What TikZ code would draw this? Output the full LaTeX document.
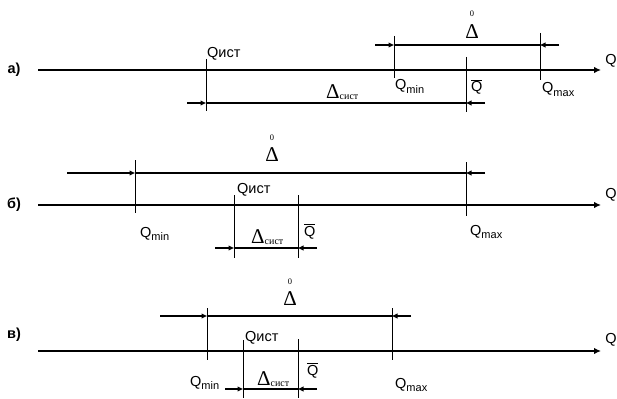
\documentclass[tikz,border=0pt]{standalone}
\usepackage{fontspec}
\setmainfont{Liberation Serif}
\newfontfamily\arial{Liberation Sans}
\usetikzlibrary{arrows.meta}
\tikzset{
  axisline/.style={line width=2.6pt,-{Latex[length=7pt,width=6.5pt]}},
  tickline/.style={line width=1pt},
  dimline/.style={line width=1.3pt},
  dimarrow/.style={line width=2.4pt,-{Latex[length=6pt,width=5.5pt]},shorten >=-0.5pt},
  lbl/.style={font=\arial\fontsize{14.5}{16}\selectfont,inner sep=0pt},
  panellbl/.style={font=\arial\bfseries\fontsize{14.5}{16}\selectfont,inner sep=0pt},
  deltalbl/.style={font=\fontsize{21}{22}\selectfont,inner sep=0pt},
  zerolbl/.style={font=\fontsize{8.5}{9}\selectfont,inner sep=0pt}
}
\newcommand{\qsub}[1]{Q\raisebox{-3.5pt}{\fontsize{11}{11}\selectfont #1}}
\newcommand{\dsys}{Δ\raisebox{-1pt}{\fontsize{10}{10}\selectfont сист}}
\newcommand{\qbar}{$\overline{\hbox{Q}}$}
\begin{document}
\begin{tikzpicture}[x=1pt,y=-1pt]
\useasboundingbox (0,0) rectangle (617,398);
% ================= panel a =================
\coordinate (a0) at (38,70);
\coordinate (a1) at (601,70);
\draw[axisline] (a0) -- (a1);
\node[panellbl] (la) at (14,70) {а)};
\node[lbl] (qa) at (611,61) {Q};
% ticks
\coordinate (aIt) at (206,59);  \coordinate (aIb) at (206,111);
\coordinate (aBt) at (466,57);  \coordinate (aBb) at (466,112);
\coordinate (aNt) at (394,36);  \coordinate (aNb) at (394,78);
\coordinate (aXt) at (540,33);  \coordinate (aXb) at (540,80);
\draw[tickline] (aIt) -- (aIb);
\draw[tickline] (aBt) -- (aBb);
\draw[tickline] (aNt) -- (aNb);
\draw[tickline] (aXt) -- (aXb);
% dimension delta sys
\coordinate (aS1) at (206,103); \coordinate (aS2) at (466,103);
\coordinate (aS0) at (187,103); \coordinate (aS3) at (485,103);
\draw[dimline] (aS1) -- (aS2);
\draw[dimarrow] (aS0) -- (aS1);
\draw[dimarrow] (aS3) -- (aS2);
% dimension delta 0
\coordinate (aD1) at (394,45); \coordinate (aD2) at (540,45);
\coordinate (aD0) at (375,45); \coordinate (aD3) at (559,45);
\draw[dimline] (aD1) -- (aD2);
\draw[dimarrow] (aD0) -- (aD1);
\draw[dimarrow] (aD3) -- (aD2);
% labels
\node[lbl,anchor=base west] (aqi) at (207,58) {Qист};
\node[deltalbl] (adl) at (472,32) {Δ};
\node[zerolbl] (az) at (472,14) {0};
\node[lbl,anchor=base west] (aqn) at (395,90) {\qsub{min}};
\node[lbl,anchor=base west] (aqb) at (471,92) {\qbar};
\node[lbl,anchor=base west] (aqx) at (542,93) {\qsub{max}};
\node[anchor=base west,inner sep=0pt,font=\fontsize{21}{22}\selectfont] (ads) at (326,99) {\dsys};
% ================= panel b =================
\coordinate (b0) at (38,205);
\coordinate (b1) at (601,205);
\draw[axisline] (b0) -- (b1);
\node[panellbl] (lb) at (14,205) {б)};
\node[lbl] (qb) at (611,195) {Q};
\coordinate (bNt) at (135,160); \coordinate (bNb) at (135,213);
\coordinate (bXt) at (466,162); \coordinate (bXb) at (466,216);
\coordinate (bIt) at (234,195); \coordinate (bIb) at (234,258);
\coordinate (bBt) at (298,195); \coordinate (bBb) at (298,258);
\draw[tickline] (bNt) -- (bNb);
\draw[tickline] (bXt) -- (bXb);
\draw[tickline] (bIt) -- (bIb);
\draw[tickline] (bBt) -- (bBb);
% delta 0
\coordinate (bDs) at (67,173);
\coordinate (bD0) at (115,173); \coordinate (bD1) at (135,173);
\coordinate (bD2) at (466,173); \coordinate (bD3) at (485,173);
\draw[dimline] (bDs) -- (bD0);
\draw[dimline] (bD1) -- (bD2);
\draw[dimarrow] (bD0) -- (bD1);
\draw[dimarrow] (bD3) -- (bD2);
% delta sys
\coordinate (bS0) at (215,248); \coordinate (bS1) at (234,248);
\coordinate (bS2) at (298,248); \coordinate (bS3) at (317,248);
\draw[dimline] (bS1) -- (bS2);
\draw[dimarrow] (bS0) -- (bS1);
\draw[dimarrow] (bS3) -- (bS2);
% labels
\node[deltalbl] (bdl) at (272,155) {Δ};
\node[zerolbl] (bz) at (272,138) {0};
\node[lbl,anchor=base west] (bqi) at (237,193) {Qист};
\node[lbl,anchor=base west] (bqn) at (140,237) {\qsub{min}};
\node[lbl,anchor=base west] (bqb) at (304,236) {\qbar};
\node[lbl,anchor=base west] (bqx) at (470,235) {\qsub{max}};
\node[anchor=base west,inner sep=0pt,font=\fontsize{21}{22}\selectfont] (bds) at (251,243) {\dsys};
% ================= panel v =================
\coordinate (c0) at (38,351);
\coordinate (c1) at (601,351);
\draw[axisline] (c0) -- (c1);
\node[panellbl] (lc) at (14,335) {в)};
\node[lbl] (qc) at (611,340) {Q};
\coordinate (cNt) at (207,308); \coordinate (cNb) at (207,360);
\coordinate (cXt) at (392,308); \coordinate (cXb) at (392,360);
\coordinate (cIt) at (243,340); \coordinate (cIb) at (243,398);
\coordinate (cBt) at (298,339); \coordinate (cBb) at (298,398);
\draw[tickline] (cNt) -- (cNb);
\draw[tickline] (cXt) -- (cXb);
\draw[tickline] (cIt) -- (cIb);
\draw[tickline] (cBt) -- (cBb);
% delta 0
\coordinate (cDs) at (160,316);
\coordinate (cD0) at (188,316); \coordinate (cD1) at (207,316);
\coordinate (cD2) at (392,316); \coordinate (cD3) at (411,316);
\draw[dimline] (cDs) -- (cD0);
\draw[dimline] (cD1) -- (cD2);
\draw[dimarrow] (cD0) -- (cD1);
\draw[dimarrow] (cD3) -- (cD2);
% delta sys
\coordinate (cS0) at (225,389); \coordinate (cS1) at (243,389);
\coordinate (cS2) at (298,389); \coordinate (cS3) at (317,389);
\draw[dimline] (cS1) -- (cS2);
\draw[dimarrow] (cS0) -- (cS1);
\draw[dimarrow] (cS3) -- (cS2);
% labels
\node[deltalbl] (cdl) at (290,299) {Δ};
\node[zerolbl] (cz) at (290,282) {0};
\node[lbl,anchor=base west] (cqi) at (245,341) {Qист};
\node[lbl,anchor=base west] (cqn) at (190,386) {\qsub{min}};
\node[lbl,anchor=base west] (cqb) at (307,375) {\qbar};
\node[lbl,anchor=base west] (cqx) at (395,388) {\qsub{max}};
\node[anchor=base west,inner sep=0pt,font=\fontsize{21}{22}\selectfont] (cds) at (257,385) {\dsys};
\end{tikzpicture}
\end{document}
